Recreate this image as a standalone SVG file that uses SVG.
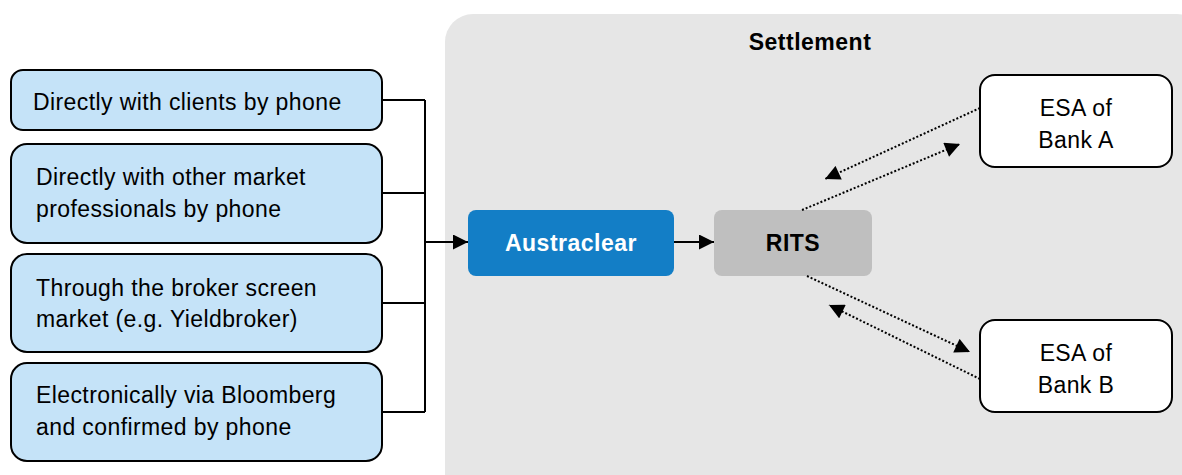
<svg xmlns="http://www.w3.org/2000/svg" width="1182" height="475" viewBox="0 0 1182 475">
<style>
.src{fill:#C5E3F8;stroke:#000;stroke-width:2}
.t{font-family:"Liberation Sans",Arial,sans-serif;font-size:23px;letter-spacing:0.4px;fill:#000}
.b{font-family:"Liberation Sans",Arial,sans-serif;font-size:23px;letter-spacing:0.5px;font-weight:bold}
.esa{fill:#fff;stroke:#000;stroke-width:2}
.ln{fill:none;stroke:#000;stroke-width:2}
.dot{fill:none;stroke:#000;stroke-width:2;stroke-dasharray:2 2}
</style>
<defs>
<marker id="ahs" viewBox="0 0 10 10" refX="10" refY="5" markerWidth="18" markerHeight="15" markerUnits="userSpaceOnUse" orient="auto"><path d="M0,0 L10,5 L0,10 Z" fill="#000"/></marker>
<marker id="ahd" viewBox="0 0 10 10" refX="10" refY="5" markerWidth="17" markerHeight="15" markerUnits="userSpaceOnUse" orient="auto"><path d="M0,0 L10,5 L0,10 Z" fill="#000"/></marker>
</defs>
<rect x="445" y="14" width="760" height="490" rx="28" fill="#E6E6E6"/>
<text class="b" x="810" y="50" text-anchor="middle">Settlement</text>
<g id="n1"><rect class="src" x="11" y="70" width="371" height="60" rx="12"/><text class="t" x="33" y="110">Directly with clients by phone</text></g>
<g id="n2"><rect class="src" x="11" y="144" width="371" height="99" rx="16"/><text class="t" x="36" y="185">Directly with other market</text><text class="t" x="36" y="217">professionals by phone</text></g>
<g id="n3"><rect class="src" x="11" y="254" width="371" height="98" rx="16"/><text class="t" x="36" y="296">Through the broker screen</text><text class="t" x="36" y="327">market (e.g. Yieldbroker)</text></g>
<g id="n4"><rect class="src" x="11" y="363" width="371" height="98" rx="16"/><text class="t" x="36" y="403">Electronically via Bloomberg</text><text class="t" x="36" y="435">and confirmed by phone</text></g>
<g id="austraclear"><rect x="468" y="210" width="206" height="66" rx="8" fill="#137EC6"/><text class="b" x="571" y="251" text-anchor="middle" fill="#fff">Austraclear</text></g>
<g id="rits"><rect x="714" y="210" width="158" height="66" rx="8" fill="#BFBFBF"/><text class="b" x="793" y="251" text-anchor="middle" fill="#000">RITS</text></g>
<g id="esaA"><rect class="esa" x="980" y="75" width="192" height="92" rx="15"/><text class="t" x="1076" y="116" text-anchor="middle">ESA of</text><text class="t" x="1076" y="148" text-anchor="middle">Bank A</text></g>
<g id="esaB"><rect class="esa" x="980" y="320" width="192" height="92" rx="15"/><text class="t" x="1076" y="361" text-anchor="middle">ESA of</text><text class="t" x="1076" y="393" text-anchor="middle">Bank B</text></g>
<g id="connectors">
<path class="ln" d="M382,100 H425 M382,193 H425 M382,303 H425 M382,412 H425 M425,100 V412"/>
<path class="ln" d="M425,242 H468" marker-end="url(#ahs)"/>
<path class="ln" d="M674,242 H714" marker-end="url(#ahs)"/>
<path class="dot" d="M980,108 L825,179" marker-end="url(#ahd)"/>
<path class="dot" d="M802,210 L960,144" marker-end="url(#ahd)"/>
<path class="dot" d="M807,276 L970,352" marker-end="url(#ahd)"/>
<path class="dot" d="M980,379 L829,305" marker-end="url(#ahd)"/>
</g>
</svg>
